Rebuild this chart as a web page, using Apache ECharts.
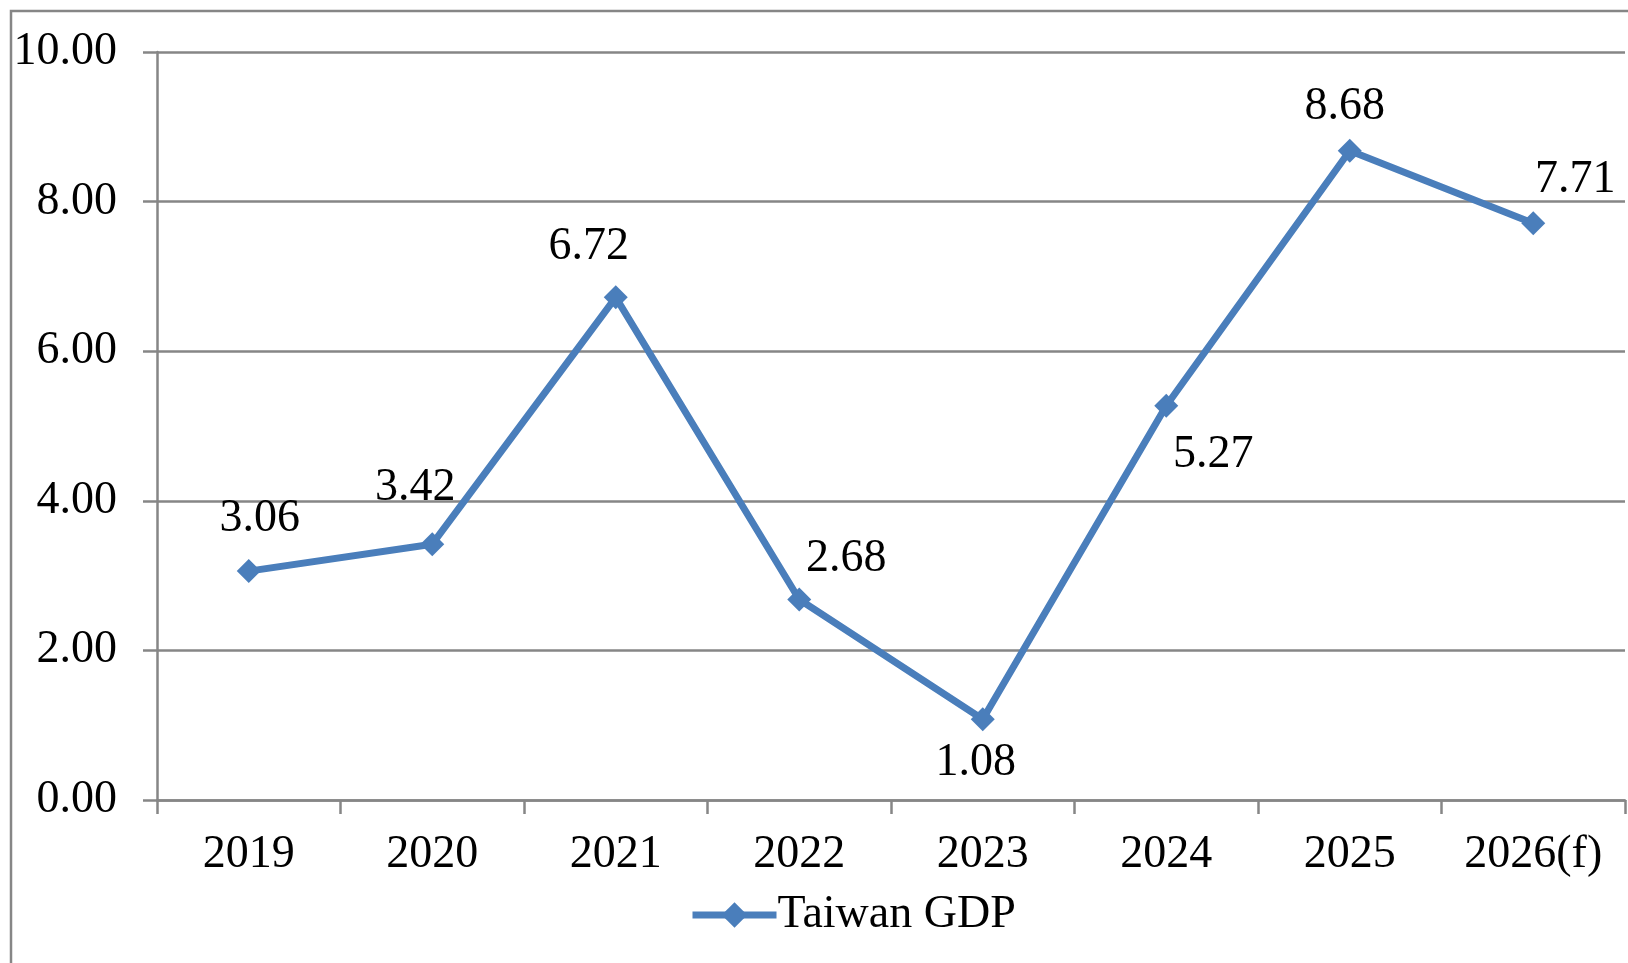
<!DOCTYPE html>
<html>
<head>
<meta charset="utf-8">
<script src="https://cdn.jsdelivr.net/npm/echarts@6/dist/echarts.min.js"></script>
<style>
  html, body { margin: 0; padding: 0; background: #fff; }
  #chart { width: 1628px; height: 963px; }
</style>
</head>
<body>
<div id="chart"></div>
<script>
const categories = ['2019', '2020', '2021', '2022', '2023', '2024', '2025', '2026(f)']
const gdpValues = [3.06, 3.42, 6.72, 2.68, 1.08, 5.27, 8.68, 7.71]
const yTicks = [0, 2, 4, 6, 8, 10]

// label offsets (px) per point, Excel-ish placement
const labelOffsets = [[11, -52], [-17, -56], [-27, -50], [47, -41], [-7, 44], [47, 49], [-5, -44], [42, -43]]

const FONT = '"Liberation Serif", "Times New Roman", serif'
const GRAY = '#868686'
const BLUE = '#4a7ebb'
const FS = 46

const chart = echarts.init(document.getElementById('chart'))

chart.setOption({
  backgroundColor: '#fff',
  animation: false,
  textStyle: { fontFamily: FONT, color: '#000' },

  graphic: [
    {
      type: 'rect',
      shape: { x: 11, y: 11, width: 1700, height: 1100 },
      style: { fill: 'none', stroke: GRAY, lineWidth: 2.5 }
    }
  ],

  grid: { left: 157, right: 3, top: 52, bottom: 163 },

  legend: {
    left: 684,
    top: 887,
    itemWidth: 84,
    itemHeight: 32,
    itemGap: 10,
    lineStyle: { width: 7 },
    textStyle: { fontFamily: FONT, fontSize: FS, color: '#000', padding: [0, 0, 0, -4] },
    data: ['Taiwan GDP']
  },

  xAxis: {
    type: 'category',
    data: categories,
    boundaryGap: true,
    axisLine: { lineStyle: { color: GRAY, width: 2.5 } },
    axisTick: { show: true, length: 14, lineStyle: { color: GRAY, width: 2.5 } },
    axisLabel: { color: '#000', fontFamily: FONT, fontSize: FS, margin: 32 },
    splitLine: { show: false }
  },

  yAxis: {
    type: 'value',
    min: yTicks[0],
    max: yTicks[yTicks.length - 1],
    interval: 2,
    axisLine: { show: true, lineStyle: { color: GRAY, width: 2.5 } },
    axisTick: { show: true, length: 14, lineStyle: { color: GRAY, width: 2.5 } },
    axisLabel: {
      color: '#000',
      fontFamily: FONT,
      fontSize: FS,
      margin: 40,
      formatter: v => v.toFixed(2)
    },
    splitLine: { show: true, lineStyle: { color: GRAY, width: 2.5 } }
  },

  series: [
    {
      name: 'Taiwan GDP',
      type: 'line',
      symbol: 'diamond',
      symbolSize: 24,
      showSymbol: true,
      lineStyle: { color: BLUE, width: 7 },
      itemStyle: { color: BLUE },
      data: gdpValues.map((v, i) => ({
        value: v,
        label: { offset: labelOffsets[i] }
      })),
      label: {
        show: true,
        position: 'inside',
        align: 'center',
        verticalAlign: 'middle',
        fontFamily: FONT,
        fontSize: FS,
        color: '#000',
        formatter: p => p.value.toFixed(2)
      }
    }
  ]
})
</script>
</body>
</html>
